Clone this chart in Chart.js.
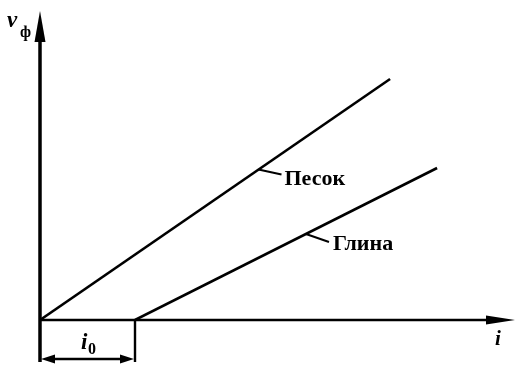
<!DOCTYPE html>
<html>
<head>
<meta charset="utf-8">
<script src="https://cdn.jsdelivr.net/npm/chart.js@4"></script>
<style>
  body { margin: 0; background: #fff; }
  canvas { display: block; }
</style>
</head>
<body>
<canvas id="chart" width="515" height="365"></canvas>
<script>
// filtration velocity vs hydraulic gradient
const sandX = [0, 7.37];
const sandY = [0, 7.8];
const clayX = [2, 8.36];
const clayY = [0, 4.92];
const i0 = 2;
const seriesNames = ['Песок', 'Глина'];

const toPoints = (xs, ys) => xs.map((x, k) => ({x: x, y: ys[k]}));

function arrowHead(ctx, tx, ty, dx, dy, len, half) {
    // tip at (tx,ty), pointing along (dx,dy)
    let px = -dy, py = dx;
    ctx.beginPath();
    ctx.moveTo(tx, ty);
    ctx.lineTo(tx - dx * len + px * half, ty - dy * len + py * half);
    ctx.lineTo(tx - dx * len - px * half, ty - dy * len - py * half);
    ctx.closePath();
    ctx.fill();
}

const sketch = {
    id: 'sketch',
    afterDatasetsDraw: function (chart) {
        let ctx = chart.ctx,
            xs = chart.scales.x,
            ys = chart.scales.y,
            ox = xs.getPixelForValue(0),
            oy = ys.getPixelForValue(0),
            xEnd = xs.getPixelForValue(xs.max),
            yEnd = ys.getPixelForValue(ys.max),
            ix = xs.getPixelForValue(i0);

        ctx.save();
        ctx.strokeStyle = '#000';
        ctx.fillStyle = '#000';
        ctx.lineCap = 'butt';

        // axes
        ctx.lineWidth = 3.5;
        ctx.beginPath();
        ctx.moveTo(ox, oy + 42);
        ctx.lineTo(ox, yEnd + 20);
        ctx.stroke();
        arrowHead(ctx, ox, yEnd, 0, -1, 31, 5.5);

        ctx.lineWidth = 2.6;
        ctx.beginPath();
        ctx.moveTo(ox, oy);
        ctx.lineTo(xEnd - 20, oy);
        ctx.stroke();
        arrowHead(ctx, xEnd, oy, 1, 0, 29, 4.5);

        // i0 bracket
        ctx.lineWidth = 2.4;
        ctx.beginPath();
        ctx.moveTo(ix, oy);
        ctx.lineTo(ix, oy + 42);
        ctx.moveTo(ox + 8, oy + 39);
        ctx.lineTo(ix - 8, oy + 39);
        ctx.stroke();
        arrowHead(ctx, ox + 1, oy + 39, -1, 0, 14, 4.5);
        arrowHead(ctx, ix - 1, oy + 39, 1, 0, 14, 4.5);

        // leaders and labels
        let sx = xs.getPixelForValue(4.6),
            sy = ys.getPixelForValue(4.6 * sandY[1] / sandX[1]),
            cxv = 5.6,
            cx = xs.getPixelForValue(cxv),
            cy = ys.getPixelForValue((cxv - clayX[0]) * clayY[1] / (clayX[1] - clayX[0]));
        ctx.lineWidth = 2;
        ctx.beginPath();
        ctx.moveTo(sx, sy);
        ctx.lineTo(sx + 23, sy + 5);
        ctx.moveTo(cx, cy);
        ctx.lineTo(cx + 23, cy + 8);
        ctx.stroke();

        ctx.textBaseline = 'alphabetic';
        ctx.font = 'bold 22px "Liberation Serif"';
        ctx.fillText(seriesNames[0], sx + 26, sy + 15);
        ctx.fillText(seriesNames[1], cx + 27, cy + 16);

        ctx.font = 'italic bold 23px "Liberation Serif"';
        ctx.fillText('v', 7, 27);
        ctx.font = 'bold 16px "Liberation Serif"';
        ctx.fillText('ф', 20, 37);

        ctx.font = 'italic bold 23px "Liberation Serif"';
        ctx.fillText('i', 81, 349);
        ctx.font = 'bold 16px "Liberation Serif"';
        ctx.fillText('0', 88, 354);

        ctx.font = 'italic bold 21px "Liberation Serif"';
        ctx.fillText('i', 495, 345);
        ctx.restore();
    }
};

new Chart(document.getElementById('chart'), {
    type: 'scatter',
    data: {
        datasets: [
            {
                label: seriesNames[0],
                data: toPoints(sandX, sandY),
                showLine: true,
                borderColor: '#000',
                borderWidth: 2.6,
                pointRadius: 0
            },
            {
                label: seriesNames[1],
                data: toPoints(clayX, clayY),
                showLine: true,
                borderColor: '#000',
                borderWidth: 2.6,
                pointRadius: 0
            }
        ]
    },
    options: {
        responsive: false,
        animation: false,
        layout: {padding: {left: 40, top: 11, right: 0, bottom: 45}},
        plugins: {legend: {display: false}, tooltip: {enabled: false}},
        scales: {
            x: {type: 'linear', min: 0, max: 10, display: false},
            y: {type: 'linear', min: 0, max: 10, display: false}
        }
    },
    plugins: [sketch]
});
</script>
</body>
</html>
